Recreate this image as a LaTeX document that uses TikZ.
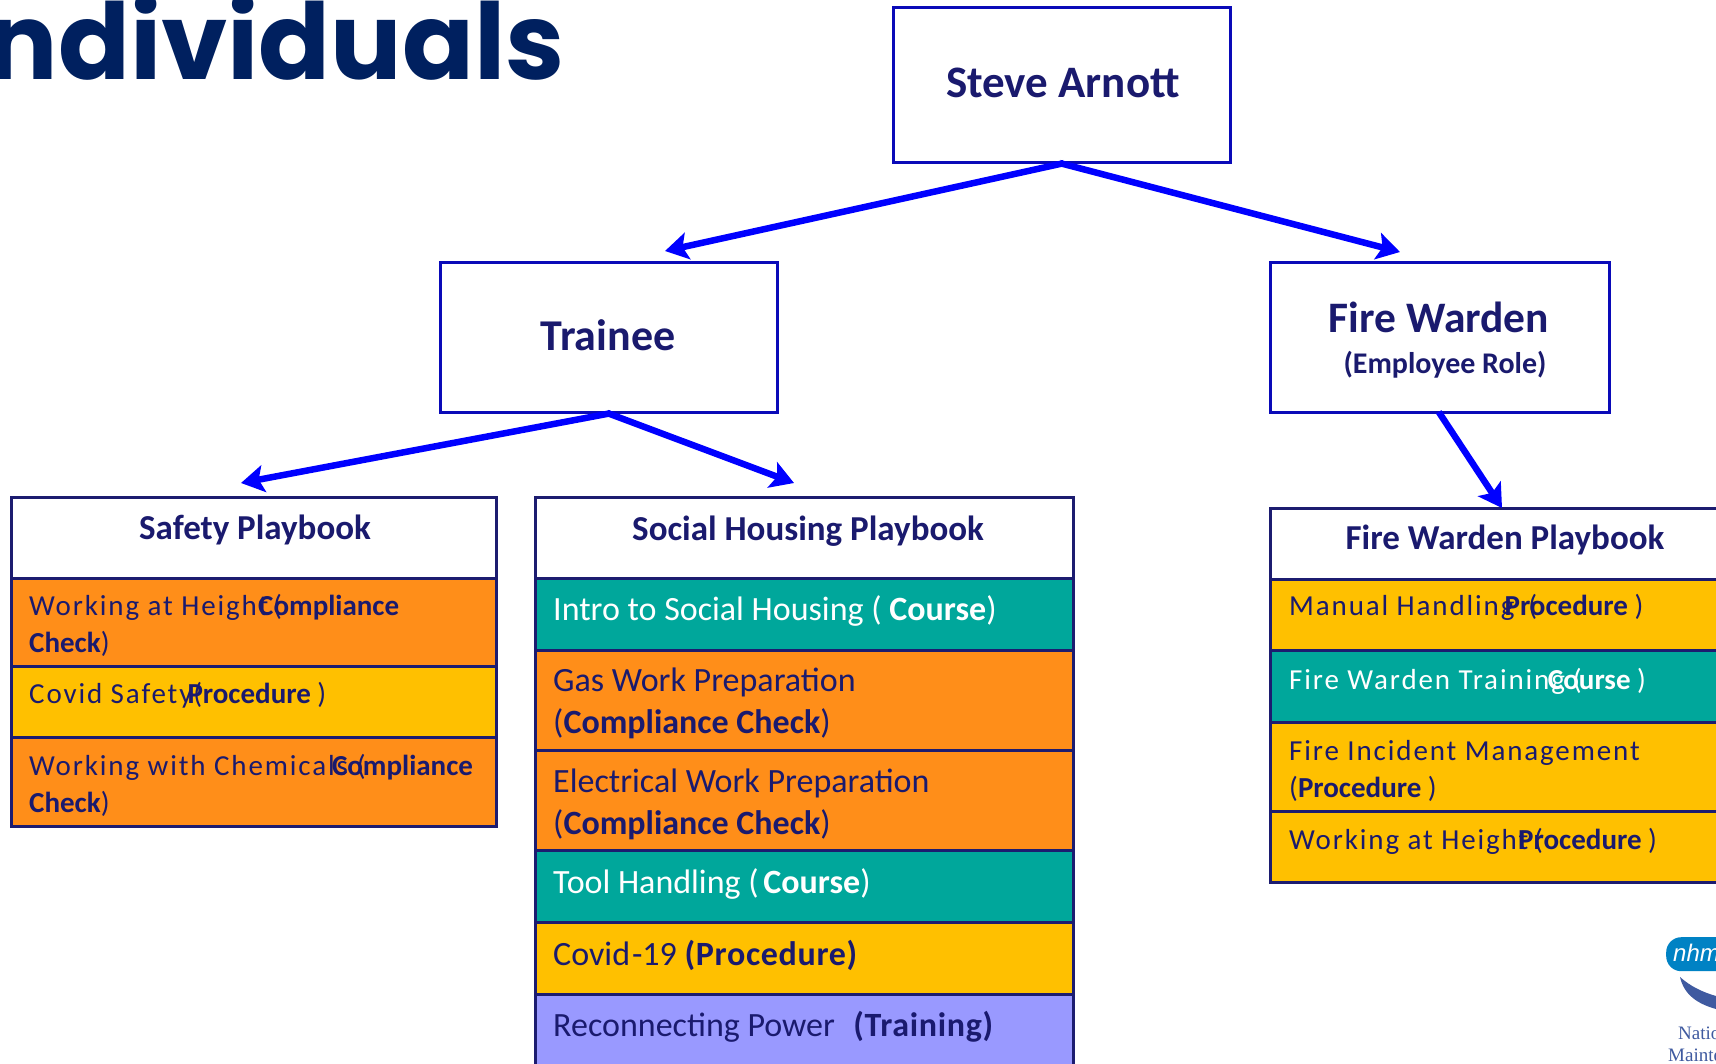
\documentclass[tikz,border=0pt]{standalone}
\usepackage{fontspec}
\usetikzlibrary{arrows.meta}
\setmainfont{Carlito}
\newfontfamily\spacedfont[LetterSpace=6.5]{Carlito}
\newfontfamily\titlefont{Poppins}
\newfontfamily\logoserif{Liberation Serif}
\newfontfamily\logosans{Liberation Sans}
\definecolor{navytext}{HTML}{1A1A6E}
\definecolor{boxblue}{HTML}{0A0AB8}
\definecolor{tableline}{HTML}{1C1C70}
\definecolor{arrowblue}{HTML}{0000FF}
\definecolor{titlenavy}{HTML}{00205F}
\definecolor{orangerow}{HTML}{FF8E19}
\definecolor{yellowrow}{HTML}{FFC000}
\definecolor{tealrow}{HTML}{00A79B}
\definecolor{violetrow}{HTML}{9999FF}
\definecolor{logoblue}{HTML}{0082C4}
\definecolor{logodark}{HTML}{3F5AA0}
\tikzset{
  rolebox/.style={draw=boxblue,line width=2.6pt,fill=white,anchor=north west,inner sep=0pt},
  rowbox/.style={draw=tableline,line width=3.2pt,anchor=north west,inner sep=0pt},
  rowsmall/.style={anchor=north west,inner sep=0pt,align=left,text=navytext,font=\fontsize{29}{37}\selectfont},
  rowbig/.style={anchor=north west,inner sep=0pt,align=left,text=navytext,font=\fontsize{34}{42}\selectfont},
  headtext/.style={anchor=base,inner sep=0pt,text=navytext,font=\fontsize{35}{40}\selectfont\bfseries},
  roletext/.style={anchor=base,inner sep=0pt,text=navytext,font=\fontsize{44}{50}\selectfont\bfseries},
  conn/.style={draw=arrowblue,line width=6.5pt,shorten <=-2pt,-{Stealth[length=23pt,width=27pt,inset=5pt]}},
}
% name, x1, y1, x2, y2, style
\newcommand{\tblrow}[6]{%
  \pgfmathsetmacro{\rw}{#4-#2}\pgfmathsetmacro{\rh}{#5-#3}%
  \node[rowbox,#6,minimum width=\rw pt,minimum height=\rh pt] (#1) at (#2,#3) {};}
\newcommand{\ovl}[3]{{\spacedfont\strut #1}\hspace{-#2pt}\rlap{\hspace{#3pt}(}}
\newcommand{\widebold}[1]{{\bfseries\addfontfeature{LetterSpace=2}#1}}
\begin{document}
\begin{tikzpicture}[x=1pt,y=-1pt]
\useasboundingbox (0,0) rectangle (1716,1063);
\clip (0,0) rectangle (1716,1063);
\fill[white] (0,0) rectangle (1716,1063);

\node[anchor=base east,inner sep=0pt,text=titlenavy,font=\fontsize{106}{120}\selectfont\titlefont\bfseries] (title) at (565,79) {ndividuals};

% role boxes
\node[rolebox,minimum width=337pt,minimum height=155pt] (steve) at (892,6) {};
\node[roletext,font=\fontsize{45}{50}\selectfont\bfseries] (stevet) at (1063,97) {Steve Arnott};
\node[rolebox,minimum width=337pt,minimum height=150pt] (trainee) at (439,261) {};
\node[roletext] (traineet) at (608,350) {Trainee};
\node[rolebox,minimum width=339pt,minimum height=150pt] (warden) at (1269,261) {};
\node[roletext,font=\fontsize{43.5}{50}\selectfont\bfseries] (wardent) at (1439,332) {Fire Warden};
\node[roletext,font=\fontsize{30}{34}\selectfont\bfseries] (wardens) at (1445,373) {(Employee Role)};

% Safety table
\tblrow{safehead}{10}{496}{495}{577}{fill=white}
\tblrow{safe1}{10}{577}{495}{665}{fill=orangerow}
\tblrow{safe2}{10}{665}{495}{736}{fill=yellowrow}
\tblrow{safe3}{10}{736}{495}{825}{fill=orangerow}
\node[headtext] (safeheadt) at (255,539.5) {Safety Playbook};
\node[rowsmall] (safe1t) at (29,589) {\ovl{Working at Height}{10}{15}\textbf{\strut Compliance}\\\textbf{\strut Check})};
\node[rowsmall] (safe2t) at (29,677) {\ovl{Covid Safety}{5}{6}\textbf{\strut Procedure} )};
\node[rowsmall] (safe3t) at (29,749) {\ovl{Working with Chemicals}{16}{25}\textbf{\strut Compliance}\\\textbf{\strut Check})};

% Social housing table
\tblrow{sochead}{534}{496}{1072}{577}{fill=white}
\tblrow{soc1}{534}{577}{1072}{649}{fill=tealrow}
\tblrow{soc2}{534}{649}{1072}{749}{fill=orangerow}
\tblrow{soc3}{534}{749}{1072}{849}{fill=orangerow}
\tblrow{soc4}{534}{849}{1072}{921}{fill=tealrow}
\tblrow{soc5}{534}{921}{1072}{993}{fill=yellowrow}
\tblrow{soc6}{534}{993}{1072}{1080}{fill=violetrow}
\node[headtext] (socheadt) at (808,540.5) {Social Housing Playbook};
\node[rowbig,text=white] (soc1t) at (553,591) {\strut Intro to Social Housing ( \textbf{Course})};
\node[rowbig] (soc2t) at (553,662) {\strut Gas Work Preparation\\\strut(\textbf{Compliance Check})};
\node[rowbig] (soc3t) at (553,763) {\strut Electrical Work Preparation\\\strut(\textbf{Compliance Check})};
\node[rowbig,text=white] (soc4t) at (553,864) {\strut Tool Handling (\hspace{-3pt} \textbf{Course})};
\node[rowbig] (soc5t) at (553,935.5) {\strut Covid\hspace{2pt}-19 \widebold{(Procedure)}};
\node[rowbig] (soc6t) at (553,1007) {\strut Reconnecting Power\ \ \hspace{3pt}\widebold{(Training)}};

% Fire warden table
\tblrow{firehead}{1269}{507}{1730}{578}{fill=white}
\tblrow{fire1}{1269}{578}{1730}{649}{fill=yellowrow}
\tblrow{fire2}{1269}{649}{1730}{721}{fill=tealrow}
\tblrow{fire3}{1269}{721}{1730}{810}{fill=yellowrow}
\tblrow{fire4}{1269}{810}{1730}{881}{fill=yellowrow}
\node[headtext] (fireheadt) at (1505,549.5) {Fire Warden Playbook};
\node[rowsmall] (fire1t) at (1289,589) {\ovl{Manual Handling}{10}{24}\textbf{\strut Procedure} )};
\node[rowsmall,text=white] (fire2t) at (1289,663) {\ovl{Fire Warden Training}{17}{25}\textbf{\strut Course} )};
\node[rowsmall] (fire3t) at (1289,734) {{\spacedfont\strut Fire Incident Management}\\\strut(\textbf{Procedure} )};
\node[rowsmall] (fire4t) at (1289,823) {\ovl{Working at Height}{10}{16}\textbf{\strut Procedure} )};

% connectors
\coordinate (toTrainee) at (665,251);
\coordinate (toWarden) at (1400,252);
\coordinate (toSafety) at (241,483);
\coordinate (toSocial) at (794,483);
\coordinate (toFire) at (1502,508);
\draw[conn] (steve.south) -- (toTrainee);
\draw[conn] (steve.south) -- (toWarden);
\draw[conn] (trainee.south) -- (toSafety);
\draw[conn] (trainee.south) -- (toSocial);
\draw[conn] (warden.south) -- (toFire);

% logo
\node[anchor=north west,fill=logoblue,rounded corners=15pt,inner sep=0pt,minimum width=110pt,minimum height=34pt] (logopill) at (1666,937) {};
\node[anchor=base west,inner sep=0pt,text=white,font=\fontsize{24}{28}\selectfont\logosans\itshape] (logonhm) at (1673,961) {nhm};
\fill[logodark] (1680,977) .. controls (1690,986) and (1702,992) .. (1716,996) -- (1716,1009) .. controls (1698,1004) and (1684,995) .. (1680,977) -- cycle;
\node[anchor=base west,inner sep=0pt,text=logodark,font=\fontsize{19}{22}\selectfont\logoserif] (logol1) at (1678,1039) {Natio};
\node[anchor=base west,inner sep=0pt,text=logodark,font=\fontsize{19}{22}\selectfont\logoserif] (logol2) at (1668,1061) {Mainte};
\end{tikzpicture}
\end{document}
